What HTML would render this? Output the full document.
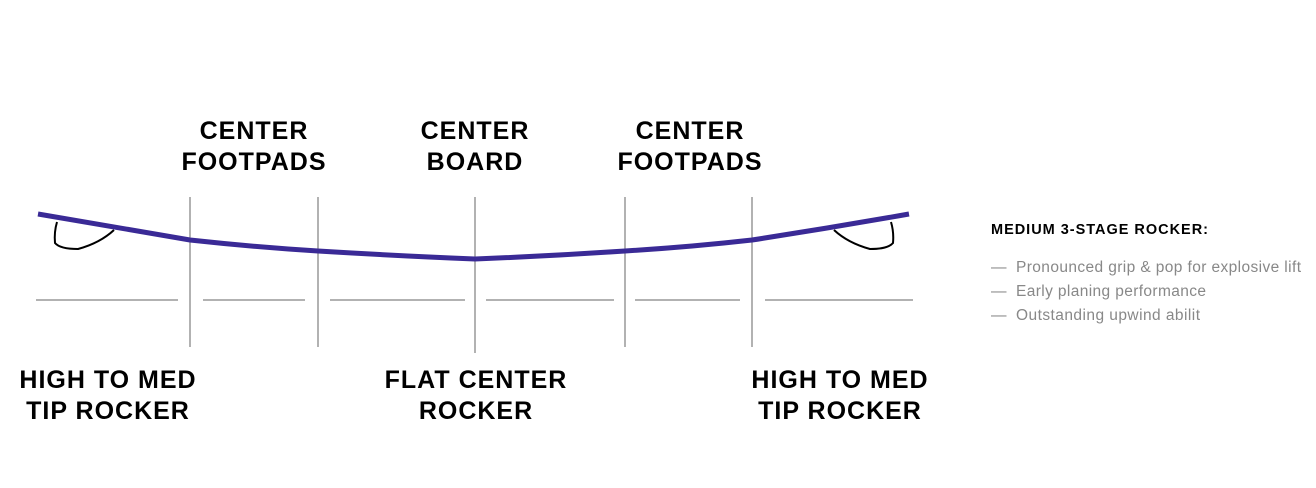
<!DOCTYPE html>
<html><head><meta charset="utf-8"><style>
html,body{margin:0;padding:0;background:#fff;width:1316px;height:488px;overflow:hidden}
svg{display:block}
.b{font-family:"Liberation Sans",sans-serif;font-weight:bold;font-size:25px;fill:#000;text-anchor:middle;letter-spacing:1px}
.g{font-family:"Liberation Sans",sans-serif;font-size:15.5px;fill:#888}
</style></head><body>
<svg width="1316" height="488" viewBox="0 0 1316 488">
<g stroke="#666" stroke-width="1">
<line x1="190" y1="197" x2="190" y2="347"/><line x1="318" y1="197" x2="318" y2="347"/>
<line x1="475" y1="197" x2="475" y2="353"/><line x1="625" y1="197" x2="625" y2="347"/>
<line x1="752" y1="197" x2="752" y2="347"/>
<line x1="36" y1="300" x2="178" y2="300"/><line x1="203" y1="300" x2="305" y2="300"/>
<line x1="330" y1="300" x2="465" y2="300"/><line x1="486" y1="300" x2="614" y2="300"/>
<line x1="635" y1="300" x2="740" y2="300"/><line x1="765" y1="300" x2="913" y2="300"/>
</g>
<g fill="none" stroke="#000" stroke-width="2">
<path d="M57 222 Q54 232 55 243 Q60 249 78 249 Q100 243 114 230"/>
<path d="M891 222 Q894 232 893 243 Q888 249 870 249 Q848 243 834 230"/>
</g>
<path d="M38 214 Q120 228 190 240 Q254 247 318 251 Q400 256 475 259 Q550 256 625 251 Q690 247 752 240 Q830 228 909 214" fill="none" stroke="#3a2a96" stroke-width="5"/>
<text class="b" x="254" y="139">CENTER</text><text class="b" x="254" y="170">FOOTPADS</text>
<text class="b" x="475" y="139">CENTER</text><text class="b" x="475" y="170">BOARD</text>
<text class="b" x="690" y="139">CENTER</text><text class="b" x="690" y="170">FOOTPADS</text>
<text class="b" x="108" y="388">HIGH TO MED</text><text class="b" x="108" y="419">TIP ROCKER</text>
<text class="b" x="476" y="388">FLAT CENTER</text><text class="b" x="476" y="419">ROCKER</text>
<text class="b" x="840" y="388">HIGH TO MED</text><text class="b" x="840" y="419">TIP ROCKER</text>
<text x="991" y="234" textLength="217" style="font-family:'Liberation Sans',sans-serif;font-weight:bold;font-size:14.5px">MEDIUM 3-STAGE ROCKER:</text>
<text class="g" x="991" y="272">—</text><text class="g" x="1016" y="272" textLength="285">Pronounced grip &amp; pop for explosive lift</text>
<text class="g" x="991" y="296">—</text><text class="g" x="1016" y="296" textLength="190">Early planing performance</text>
<text class="g" x="991" y="320">—</text><text class="g" x="1016" y="320" textLength="184">Outstanding upwind abilit</text>
</svg>
</body></html>
